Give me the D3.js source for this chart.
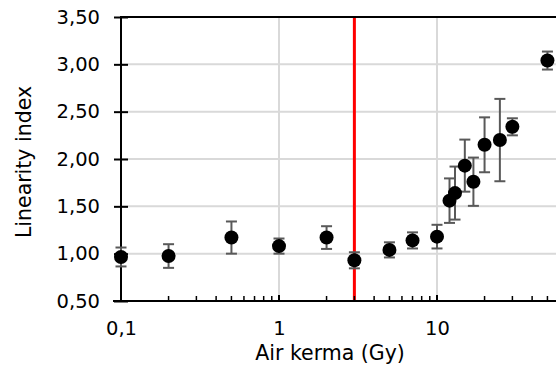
<!DOCTYPE html>
<html>
<head>
<meta charset="utf-8">
<script src="https://cdn.jsdelivr.net/npm/d3@7"></script>
<style>
  body { margin: 0; background: #fff; }
  svg { display: block; font-family: "DejaVu Sans", sans-serif; }
</style>
</head>
<body>
<div id="chart"></div>
<script>
// air kerma (Gy), linearity index and error (±)
const dose = [0.1, 0.2, 0.5, 1, 2, 3, 5, 7, 10, 12, 13, 15, 17, 20, 25, 30, 50];
const linearity = [0.965, 0.975, 1.17, 1.08, 1.17, 0.93, 1.04, 1.14, 1.18, 1.56, 1.64, 1.93, 1.76, 2.15, 2.20, 2.34, 3.04];
const errors = [0.10, 0.125, 0.17, 0.08, 0.12, 0.085, 0.08, 0.085, 0.125, 0.235, 0.28, 0.275, 0.255, 0.29, 0.435, 0.09, 0.095];
const yTicks = [0.5, 1, 1.5, 2, 2.5, 3, 3.5];
const xMajor = [0.1, 1, 10];
const thresholdDose = 3;

const width = 556, height = 374;
const plotLeft = 121, plotTop = 17, plotBottom = 301;

const svg = d3.select('#chart').append('svg')
  .attr('width', width)
  .attr('height', height);

const x = d3.scaleLog().domain([0.1, 100]).range([plotLeft, plotLeft + 3 * 158]);
const y = d3.scaleLinear().domain([0.5, 3.5]).range([plotBottom, plotTop]);
const fmt = d3.format('.2f');
const comma = s => s.replace('.', ',');

// gridlines
svg.append('g').selectAll('line')
  .data(yTicks.slice(1))
  .enter().append('line')
  .attr('x1', plotLeft).attr('x2', width + 50)
  .attr('y1', d => y(d)).attr('y2', d => y(d))
  .attr('stroke', '#d9d9d9').attr('stroke-width', 2);

svg.append('g').selectAll('line')
  .data(xMajor.slice(1))
  .enter().append('line')
  .attr('x1', d => x(d)).attr('x2', d => x(d))
  .attr('y1', plotTop).attr('y2', plotBottom)
  .attr('stroke', '#d9d9d9').attr('stroke-width', 2);

// threshold line
svg.append('line')
  .attr('x1', x(thresholdDose)).attr('x2', x(thresholdDose))
  .attr('y1', plotTop).attr('y2', plotBottom)
  .attr('stroke', '#ff0000').attr('stroke-width', 3);

// frame top
svg.append('line')
  .attr('x1', plotLeft).attr('x2', width + 50)
  .attr('y1', plotTop).attr('y2', plotTop)
  .attr('stroke', '#000').attr('stroke-width', 2);

// y axis
const yAxis = svg.append('g')
  .attr('transform', `translate(${plotLeft},0)`)
  .call(d3.axisLeft(y).tickValues(yTicks).tickSize(7).tickFormat(d => comma(fmt(d))));
yAxis.select('.domain').remove();
yAxis.append('line').attr('x1', 0).attr('x2', 0).attr('y1', plotTop - 1).attr('y2', plotBottom + 1)
  .attr('stroke', '#000').attr('stroke-width', 2);
yAxis.selectAll('.tick line').attr('x1', -7).attr('x2', 7).attr('stroke', '#000').attr('stroke-width', 2);
yAxis.selectAll('.tick text').attr('x', -21).attr('font-size', 19.5).attr('fill', '#000')
  .attr('font-family', '"DejaVu Sans", sans-serif');

// x axis
const minor = [];
xMajor.forEach(d => { for (let k = 2; k <= 9; k++) minor.push(d * k); });
const xAxis = svg.append('g')
  .attr('transform', `translate(0,${plotBottom})`)
  .call(d3.axisBottom(x).tickValues(xMajor).tickSize(0).tickPadding(20)
    .tickFormat(d => String(d).replace('.', ',')));
xAxis.select('.domain').remove();
xAxis.append('line').attr('x1', plotLeft - 8).attr('x2', width + 50).attr('y1', 0).attr('y2', 0)
  .attr('stroke', '#000').attr('stroke-width', 2);
xAxis.selectAll('.tick text').attr('font-size', 19.5).attr('fill', '#000')
  .attr('font-family', '"DejaVu Sans", sans-serif');
xAxis.selectAll('.minor').data(minor).enter().append('line')
  .attr('x1', d => x(d)).attr('x2', d => x(d))
  .attr('y1', 0).attr('y2', -5)
  .attr('stroke', '#000').attr('stroke-width', 1.5);
xAxis.selectAll('.major').data(xMajor.slice(1)).enter().append('line')
  .attr('x1', d => x(d)).attr('x2', d => x(d))
  .attr('y1', 0).attr('y2', -6)
  .attr('stroke', '#000').attr('stroke-width', 2);

// error bars
const pts = dose.map((d, i) => ({ dose: d, v: linearity[i], e: errors[i] }));
const eb = svg.append('g').attr('stroke', '#595959').attr('stroke-width', 2);
eb.selectAll('.bar').data(pts).enter().append('line')
  .attr('x1', d => x(d.dose)).attr('x2', d => x(d.dose))
  .attr('y1', d => y(d.v - d.e)).attr('y2', d => y(d.v + d.e));
eb.selectAll('.capTop').data(pts).enter().append('line')
  .attr('x1', d => x(d.dose) - 5.5).attr('x2', d => x(d.dose) + 5.5)
  .attr('y1', d => y(d.v + d.e)).attr('y2', d => y(d.v + d.e));
eb.selectAll('.capBot').data(pts).enter().append('line')
  .attr('x1', d => x(d.dose) - 5.5).attr('x2', d => x(d.dose) + 5.5)
  .attr('y1', d => y(d.v - d.e)).attr('y2', d => y(d.v - d.e));

// markers
svg.append('g').selectAll('circle')
  .data(pts).enter().append('circle')
  .attr('cx', d => x(d.dose)).attr('cy', d => y(d.v))
  .attr('r', 7).attr('fill', '#000');

// axis titles
svg.append('text')
  .attr('x', 330).attr('y', 360)
  .attr('text-anchor', 'middle')
  .attr('font-size', 20.5)
  .text('Air kerma (Gy)');

svg.append('text')
  .attr('transform', 'translate(31,162) rotate(-90)')
  .attr('text-anchor', 'middle')
  .attr('font-size', 20.5)
  .text('Linearity index');
</script>
</body>
</html>
